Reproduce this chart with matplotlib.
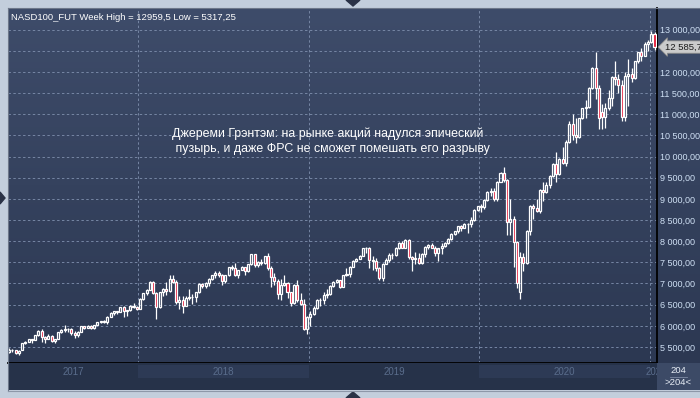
import numpy as np
import pandas as pd
import matplotlib
matplotlib.use("Agg")
import matplotlib.pyplot as plt
from matplotlib.colors import LinearSegmentedColormap
from matplotlib.patches import Polygon
from matplotlib.ticker import FuncFormatter

plt.rcParams['font.family'] = ['Liberation Sans', 'DejaVu Sans']

# weekly candles (open, high, low, close), week ending Friday, first week ends 2017-03-31
ohlc_2017 = [
    (5390, 5470, 5370, 5436), (5436, 5460, 5380, 5418), (5418, 5425, 5330, 5353), (5353, 5425, 5317.25, 5411),
    (5430, 5600, 5425, 5584), (5584, 5640, 5570, 5629), (5629, 5690, 5620, 5680), (5680, 5700, 5590, 5660),
    (5660, 5790, 5655, 5788), (5788, 5900, 5760, 5880), (5880, 5920, 5620, 5730), (5730, 5770, 5600, 5682),
    (5682, 5800, 5680, 5764), (5764, 5795, 5610, 5646), (5646, 5700, 5600, 5689), (5689, 5860, 5680, 5850),
    (5850, 5920, 5820, 5905), (5905, 6010, 5850, 5920), (5920, 5950, 5860, 5930), (5930, 5940, 5790, 5830),
    (5830, 5870, 5720, 5790), (5790, 5880, 5740, 5860), (5860, 5990, 5850, 5985), (5985, 6000, 5920, 5945),
    (5945, 6010, 5940, 5995), (5995, 6010, 5930, 5960), (5960, 6030, 5920, 6020), (6020, 6090, 6010, 6080),
    (6080, 6120, 6060, 6110), (6110, 6130, 6070, 6100), (6100, 6240, 6050, 6220), (6220, 6320, 6200, 6300),
    (6300, 6360, 6250, 6340), (6340, 6360, 6270, 6330), (6330, 6450, 6320, 6440), (6440, 6460, 6200, 6340),
    (6340, 6380, 6240, 6370), (6370, 6500, 6350, 6480), (6480, 6530, 6430, 6450), (6450, 6470, 6380, 6400),
]
ohlc_2018 = [
    (6400, 6660, 6390, 6640), (6640, 6780, 6610, 6770), (6770, 6870, 6730, 6850), (6850, 7050, 6840, 7030),
    (7030, 7050, 6750, 6770), (6770, 6800, 6160, 6450), (6450, 6810, 6430, 6790), (6790, 6900, 6700, 6880),
    (6880, 7030, 6720, 6830), (6830, 7200, 6800, 7100), (7100, 7190, 7000, 7040), (7040, 7080, 6520, 6560),
    (6560, 6700, 6400, 6600), (6600, 6700, 6310, 6480), (6480, 6700, 6470, 6660), (6660, 6860, 6620, 6690),
    (6690, 6760, 6510, 6680), (6680, 6800, 6560, 6790), (6790, 7000, 6770, 6980), (6980, 7010, 6900, 6950),
    (6950, 7030, 6900, 7010), (7010, 7120, 6940, 7110), (7110, 7210, 7090, 7190), (7190, 7290, 7140, 7250),
    (7250, 7290, 7160, 7210), (7210, 7220, 6970, 7050), (7050, 7210, 7000, 7190), (7190, 7400, 7180, 7390),
    (7390, 7430, 7310, 7370), (7370, 7490, 7180, 7200), (7200, 7330, 7130, 7320), (7320, 7420, 7310, 7390),
    (7390, 7400, 7210, 7290), (7290, 7460, 7270, 7450), (7450, 7700, 7440, 7690), (7690, 7700, 7380, 7440),
    (7440, 7540, 7400, 7510), (7510, 7570, 7430, 7480), (7480, 7650, 7460, 7640), (7640, 7720, 7330, 7370),
    (7370, 7410, 6920, 7150), (7150, 7240, 6970, 7060), (7060, 7110, 6630, 6750), (6750, 7100, 6610, 6970),
    (6970, 7210, 6950, 7020), (7020, 7040, 6660, 6790), (6790, 6810, 6480, 6540), (6540, 6980, 6520, 6960),
    (6960, 7090, 6570, 6610), (6610, 6770, 6490, 6520), (6520, 6640, 5900, 5920), (5920, 6240, 5800, 6210),
]
ohlc_2019 = [
    (6210, 6340, 5990, 6290), (6290, 6470, 6260, 6430), (6430, 6630, 6390, 6610), (6610, 6650, 6460, 6600),
    (6600, 6790, 6510, 6730), (6730, 6870, 6650, 6760), (6760, 6960, 6730, 6950), (6950, 7070, 6910, 7040),
    (7040, 7100, 7000, 7080), (7080, 7090, 6890, 6920), (6920, 7210, 6910, 7200), (7200, 7370, 7180, 7220),
    (7220, 7410, 7150, 7390), (7390, 7550, 7380, 7530), (7530, 7600, 7500, 7580), (7580, 7670, 7570, 7650),
    (7650, 7840, 7650, 7830), (7830, 7870, 7730, 7850), (7850, 7870, 7360, 7550), (7560, 7650, 7320, 7530),
    (7530, 7610, 7290, 7370), (7370, 7390, 7090, 7140), (7140, 7490, 7070, 7470), (7470, 7610, 7460, 7550),
    (7550, 7730, 7510, 7680), (7680, 7730, 7590, 7670), (7670, 7870, 7660, 7850), (7850, 7970, 7810, 7950),
    (7950, 8000, 7830, 7850), (7850, 8050, 7840, 8030), (8030, 8050, 7590, 7630), (7630, 7660, 7290, 7580),
    (7580, 7750, 7450, 7610), (7610, 7730, 7450, 7480), (7480, 7710, 7450, 7700), (7700, 7880, 7620, 7860),
    (7860, 7940, 7810, 7910), (7910, 7960, 7840, 7850), (7850, 7890, 7650, 7710), (7710, 7810, 7530, 7830),
    (7830, 7960, 7690, 7890), (7890, 7990, 7870, 7960), (7960, 8070, 7930, 8050), (8050, 8190, 8030, 8170),
    (8170, 8250, 8150, 8240), (8240, 8370, 8200, 8360), (8360, 8380, 8250, 8310), (8310, 8440, 8310, 8410),
    (8410, 8430, 8190, 8400), (8400, 8560, 8340, 8490), (8490, 8750, 8480, 8730), (8730, 8830, 8720, 8820),
]
ohlc_2020 = [
    (8820, 8880, 8700, 8800), (8800, 8990, 8760, 8970), (8970, 9180, 8950, 9170), (9170, 9260, 9070, 9190),
    (9190, 9260, 8950, 8990), (8990, 9430, 8960, 9400), (9400, 9630, 9390, 9620), (9620, 9760, 9400, 9450),
    (9450, 9460, 8150, 8460), (8460, 9000, 8140, 8530), (8530, 8600, 7400, 7990), (7990, 8000, 6900, 7000),
    (6800, 7750, 6630, 7620), (7620, 7720, 7300, 7480), (7480, 8260, 7470, 8230), (8230, 8850, 8150, 8830),
    (8830, 8880, 8530, 8790), (8790, 9000, 8680, 8720), (8720, 9230, 8670, 9210), (9210, 9390, 8950, 9150),
    (9150, 9400, 9140, 9320), (9320, 9570, 9260, 9550), (9550, 9850, 9510, 9820), (9820, 10100, 9400, 9590),
    (9590, 9960, 9560, 9940), (9940, 10230, 9830, 9850), (9850, 10380, 9780, 10340), (10340, 10840, 10330, 10770),
    (10770, 11000, 10400, 10500), (10500, 10900, 10320, 10460), (10460, 10920, 10430, 10900), (10900, 11150, 10880, 11140),
    (11140, 11330, 10900, 11170), (11170, 11650, 11150, 11620), (11620, 12110, 11600, 12090), (12090, 12470, 11350, 11620),
    (11620, 11700, 10650, 10900), (11050, 11250, 10650, 10930), (10930, 11270, 10680, 11150), (11150, 11560, 11100, 11390),
    (11390, 11900, 11200, 11870), (11870, 12250, 11700, 11840), (11840, 11950, 11500, 11690), (11690, 11800, 10830, 10940),
    (10940, 12000, 10850, 11900), (11900, 12300, 11200, 11940), (11940, 12100, 11750, 11860), (11860, 12260, 11830, 12250),
    (12250, 12480, 12200, 12460), (12460, 12560, 12260, 12380), (12380, 12700, 12370, 12650), (12650, 12760, 12500, 12710),
]
ohlc_2021 = [
    (12710, 12959.5, 12690, 12890), (12890, 12940, 12520, 12585.75),
]

price_levels = np.arange(5500, 13001, 500)
headline = "Джереми Грэнтэм: на рынке акций надулся эпический\n пузырь, и даже ФРС не сможет помешать его разрыву"
symbol = "NASD100_FUT"
bar_count = "204"

ohlc = np.array(ohlc_2017 + ohlc_2018 + ohlc_2019 + ohlc_2020 + ohlc_2021, dtype=float)
opens, highs, lows, closes = ohlc.T
dates = pd.date_range("2017-03-31", periods=len(ohlc), freq="W-FRI")
x = np.arange(len(ohlc))

W, H = 700, 398


def fig_box(x0, y0, x1, y1):
    return [x0 / W, 1 - y1 / H, (x1 - x0) / W, (y1 - y0) / H]


def fmt_num(v):
    return f"{v:,.2f}".replace(",", " ").replace(".", ",")


fig = plt.figure(figsize=(W / 100, H / 100), dpi=100, facecolor="#c3cedc")

# dark gradient background behind plot and price scale
bg = fig.add_axes(fig_box(8, 8, 700, 363))
cmap = LinearSegmentedColormap.from_list("bg", ["#3e4c6a", "#2c3852"])
bg.imshow(np.linspace(0, 1, 256).reshape(-1, 1), cmap=cmap, aspect="auto", extent=[0, 1, 0, 1])
bg.set_axis_off()

ax = fig.add_axes(fig_box(8, 8, 657, 363))
ax.set_facecolor("none")
ax.set_xlim(-0.3, len(ohlc) - 0.24)
ax.set_ylim(5122, 13508)

# grid
years = np.flatnonzero(np.diff(dates.year)) + 1
for lvl in price_levels:
    ax.axhline(lvl, color="#7686a4", lw=0.7, ls=(0, (2.5, 2.5)), zorder=1)
for b in years:
    ax.axvline(b - 0.5, color="#7686a4", lw=0.7, ls=(0, (2.5, 2.5)), zorder=1)

# candles
up = closes >= opens
top = np.maximum(opens, closes)
bot = np.minimum(opens, closes)
ax.vlines(x, top, highs, color="white", lw=0.9, zorder=3)
ax.vlines(x, lows, bot, color="white", lw=0.9, zorder=3)
ax.bar(x[up], (top - bot)[up], bottom=bot[up], width=0.62, facecolor="none",
       edgecolor="white", linewidth=0.9, zorder=4)
ax.bar(x[~up], (top - bot)[~up], bottom=bot[~up], width=0.62, facecolor="#e3102f",
       edgecolor="white", linewidth=0.9, zorder=4)

for s in ["top", "left"]:
    ax.spines[s].set_visible(False)
for s in ["right", "bottom"]:
    ax.spines[s].set_color("black")
    ax.spines[s].set_linewidth(1.3)
ax.set_xticks([])
ax.yaxis.tick_right()
ax.set_yticks(price_levels)
# the level under the last-price tag is hidden, as on the terminal
ax.yaxis.set_major_formatter(FuncFormatter(
    lambda v, _: "" if abs(v - closes[-1]) < 200 else fmt_num(v)))
ax.tick_params(axis="y", length=0, pad=2, labelsize=6.5, labelcolor="#cfe0f4")

# last price tag
ax.text(1.012, closes[-1], fmt_num(closes[-1])[:-1], transform=ax.get_yaxis_transform(),
        ha="left", va="center", fontsize=6.8, color="#1a1a1a", zorder=10, clip_on=False,
        bbox=dict(boxstyle="larrow,pad=0.18", fc="#cbcbcb", ec="#8a8a8a", lw=0.6))

ax.text(0.004, 0.972,
        f"{symbol} Week High = {highs.max():g} Low = {lows.min():g}".replace(".", ","),
        transform=ax.transAxes, ha="left", va="center", fontsize=6.8, color="white")

ax.text(164 / 649, 0.625, headline, transform=ax.transAxes, ha="left", va="center",
        multialignment="left", fontsize=8.9, color="white", linespacing=1.3)

# time scale strip
tx = fig.add_axes(fig_box(8, 363, 657, 390), sharex=ax)
tx.set_facecolor("#263249")
edges = [ax.get_xlim()[0]] + [b - 0.5 for b in years] + [ax.get_xlim()[1] + 2]
for i in range(len(edges) - 1):
    if i % 2 == 1:
        tx.axvspan(edges[i], edges[i + 1], ymin=0.45, ymax=0.93, color="#2d3a55", lw=0)
    label = str(dates.year[0] + i)
    tx.text((edges[i] + edges[i + 1]) / 2, 0.68, label, transform=tx.get_xaxis_transform(),
            ha="center", va="center", fontsize=7, color="#5a6d8c", clip_on=True)
tx.set_ylim(0, 1)
tx.set_xticks([])
tx.set_yticks([])
for s in tx.spines.values():
    s.set_visible(False)
tx.set_xlim(ax.get_xlim())

# bar count box
cb = fig.add_axes(fig_box(657, 363, 700, 390))
cb.set_facecolor("#3c4a66")
cb.set_xticks([])
cb.set_yticks([])
for s in cb.spines.values():
    s.set_visible(False)
cb.text(0.5, 0.72, bar_count, ha="center", va="center", fontsize=6.8, color="#e8eef6")
cb.plot([0.3, 0.7], [0.5, 0.5], color="#7d8aa3", lw=0.6)
cb.text(0.5, 0.26, f">{bar_count}<", ha="center", va="center", fontsize=6.8, color="#e8eef6")
cb.set_xlim(0, 1)
cb.set_ylim(0, 1)

# frame markers
for pts in ([(346, 0), (360, 0), (353, 6)], [(346, 398), (360, 398), (353, 392)], [(0, 192), (0, 204), (5, 198)]):
    fig.add_artist(Polygon([(px / W, 1 - py / H) for px, py in pts], closed=True,
                           transform=fig.transFigure, color="#2a3246"))
fig.add_artist(plt.Line2D([7.5 / W, 7.5 / W], [1 - 391 / H, 1 - 7.5 / H], transform=fig.transFigure,
                          color="#6d7789", lw=0.8))
fig.add_artist(plt.Line2D([7.5 / W, 1], [1 - 7.5 / H, 1 - 7.5 / H], transform=fig.transFigure,
                          color="#6d7789", lw=0.8))
fig.add_artist(plt.Line2D([7.5 / W, 1], [1 - 391 / H, 1 - 391 / H], transform=fig.transFigure,
                          color="#8d97a8", lw=0.8))

fig.savefig("out.png", dpi=100, facecolor=fig.get_facecolor())
